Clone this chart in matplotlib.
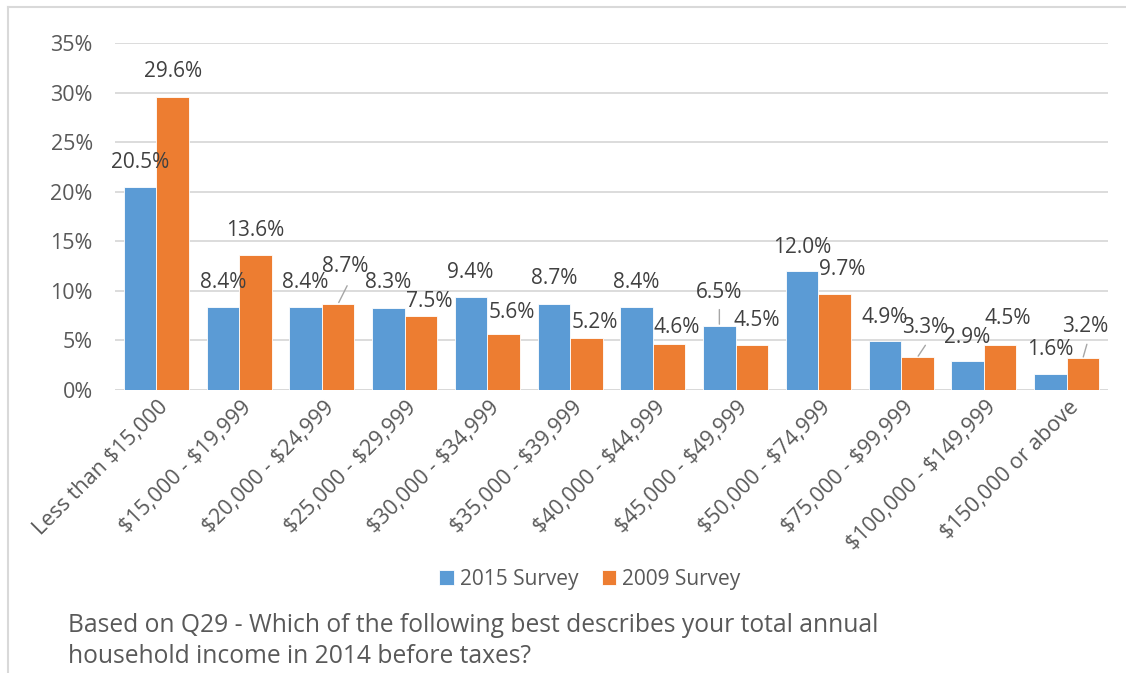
import matplotlib
matplotlib.use("Agg")
import matplotlib.pyplot as plt
from matplotlib.lines import Line2D
import numpy as np

categories = ["Less than $15,000", "$15,000 - $19,999", "$20,000 - $24,999",
              "$25,000 - $29,999", "$30,000 - $34,999", "$35,000 - $39,999",
              "$40,000 - $44,999", "$45,000 - $49,999", "$50,000 - $74,999",
              "$75,000 - $99,999", "$100,000 - $149,999", "$150,000 or above"]
survey_2015 = [20.5, 8.4, 8.4, 8.3, 9.4, 8.7, 8.4, 6.5, 12.0, 4.9, 2.9, 1.6]
survey_2009 = [29.6, 13.6, 8.7, 7.5, 5.6, 5.2, 4.6, 4.5, 9.7, 3.3, 4.5, 3.2]
series_names = ["2015 Survey", "2009 Survey"]
yticks = [0, 5, 10, 15, 20, 25, 30, 35]
subtitle = ("Based on Q29 - Which of the following best describes your total annual\n"
            "household income in 2014 before taxes?")

# label placement (pixel offsets from bar top-centre), style only
off_2015 = [(0, 24), (0, 24), (0, 24), (0, 25), (-1, 24), (0, 25), (0, 24),
            (0, 33), (0, 24), (0, 24), (0, 24), (0, 25)]
off_2009 = [(0, 25), (0, 25), (7, 37), (8, 14), (8, 22), (8, 16), (8, 17),
            (5, 25), (8, 24), (8, 30), (8, 27), (2, 32)]
leaders_2015 = {7: ((0, 16), (0, 1))}
leaders_2009 = {2: ((9, 18), (0, 1)), 9: ((8, 12), (0, 1)), 11: ((4, 14), (0, 1))}

BLUE = "#5B9BD5"
ORANGE = "#ED7D31"
TXT = "#404040"
TICK = "#595959"
GRID = "#D9D9D9"
FONT = "Open Sans"

plt.rcParams["font.family"] = [FONT, "DejaVu Sans"]

fig = plt.figure(figsize=(11.26, 6.73), dpi=100)
W, H = 1126, 673
ax = fig.add_axes([115 / W, 1 - 390 / H, (1108 - 115) / W, (390 - 43) / H])

x = np.arange(len(categories))
bw = 0.393
b1 = ax.bar(x - bw / 2, survey_2015, bw, color=BLUE, edgecolor="white", linewidth=0.6,
            label=series_names[0], zorder=3)
b2 = ax.bar(x + bw / 2, survey_2009, bw, color=ORANGE, edgecolor="white", linewidth=0.6,
            label=series_names[1], zorder=3)

ax.set_xlim(-0.5, len(categories) - 0.5)
ax.set_ylim(0, 35)
ax.set_yticks(yticks)
ax.set_yticklabels([f"{v}%" for v in yticks], fontsize=15.5, color=TICK)
ax.yaxis.grid(True, color=GRID, linewidth=1.3, zorder=0)
ax.set_axisbelow(True)
for s in ax.spines.values():
    s.set_visible(False)
ax.tick_params(axis="y", length=0, pad=16)
ax.tick_params(axis="x", length=0, pad=5)
ax.axhline(0, color=GRID, linewidth=1.3, zorder=2)

ax.set_xticks(x + 0.02)
ax.set_xticklabels(categories, rotation=45, ha="right", va="top",
                   rotation_mode="anchor", fontsize=15.5, color=TICK, parse_math=False)


def add_labels(xs, vals, offs, leaders):
    for i, (xx, v) in enumerate(zip(xs, vals)):
        dx, dy = offs[i]
        ax.annotate(f"{v:.1f}%", xy=(xx, v), xytext=(dx, dy),
                    textcoords="offset pixels", ha="center", va="center",
                    fontsize=15, color=TXT, zorder=5)
        if i in leaders:
            (sx, sy), (ex, ey) = leaders[i]
            ax.annotate("", xy=(xx, v), xytext=(sx, sy), textcoords="offset pixels",
                        arrowprops=dict(arrowstyle="-", color="#A6A6A6", lw=1.0,
                                        shrinkA=0, shrinkB=1),
                        zorder=4)


add_labels(x - bw / 2, survey_2015, off_2015, leaders_2015)
add_labels(x + bw / 2, survey_2009, off_2009, leaders_2009)

fig.legend(handles=[b1, b2], labels=series_names, loc="center",
           bbox_to_anchor=(590 / W, 1 - 579 / H), ncol=2, frameon=False,
           fontsize=15, handlelength=0.7, handleheight=0.7, handletextpad=0.3,
           columnspacing=1.1, labelcolor=TICK)

fig.text(68 / W, 1 - 613 / H, subtitle, fontsize=17.7, color=TICK,
         ha="left", va="top", linespacing=1.3)

# chart border
fig.add_artist(Line2D([8 / W, 1.0], [1 - 6.5 / H, 1 - 6.5 / H], color=GRID, lw=1.5,
                      transform=fig.transFigure))
fig.add_artist(Line2D([8 / W, 8 / W], [0, 1 - 6.5 / H], color=GRID, lw=1.5,
                      transform=fig.transFigure))

fig.savefig("out.png", dpi=100)
